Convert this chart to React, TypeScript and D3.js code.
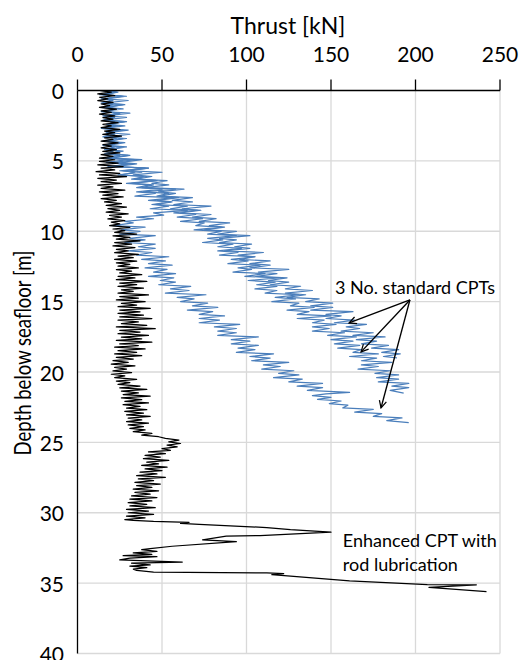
import React from 'react';
import * as d3 from 'd3';

const thrustTicks = [0, 50, 100, 150, 200, 250];
const depthTicks = [0, 5, 10, 15, 20, 25, 30, 35, 40];

// [depth m, thrust kN]
const enhancedCPT: [number, number][] = [
  [0,13],[0.12,20],[0.24,12],[0.36,22],[0.48,13],[0.6,18],[0.72,12],[0.84,21],[0.96,14],[1.08,19],[1.2,13],[1.32,23],[1.44,14],[1.56,20],[1.68,13],[1.8,22],[1.92,15],
  [2.04,21],[2.16,14],[2.28,24],[2.4,15],[2.52,20],[2.64,14],[2.76,25],[2.88,16],[3.0,22],[3.12,15],[3.24,26],[3.36,16],[3.48,21],[3.6,14],[3.72,24],[3.84,15],[3.96,20],[4.08,14],[4.2,23],[4.32,15],[4.44,25],[4.56,14],[4.68,21],[4.8,13],[4.92,22],
  [5.04,13],[5.16,24],[5.28,12],[5.4,27],[5.52,14],[5.64,22],[5.76,11],[5.88,25],[6.0,13],[6.12,29],[6.24,12],[6.36,23],[6.48,14],[6.6,26],[6.72,12],[6.84,21],[6.96,14],[7.08,28],[7.2,13],[7.32,24],[7.44,15],[7.56,27],[7.68,14],[7.8,23],[7.92,16],
  [8.04,26],[8.16,17],[8.28,29],[8.4,18],[8.52,25],[8.64,17],[8.76,30],[8.88,19],[9.0,26],[9.12,18],[9.24,28],[9.36,20],[9.48,25],[9.6,19],[9.72,31],[9.84,21],[9.96,28],
  [10.08,22],[10.2,35],[10.32,21],[10.44,31],[10.56,23],[10.68,37],[10.8,22],[10.92,32],[11.04,21],[11.16,34],[11.28,23],[11.4,30],[11.52,22],[11.64,36],[11.76,24],[11.88,33],[12.0,22],[12.12,35],[12.24,23],[12.36,31],[12.48,24],[12.6,36],[12.72,23],[12.84,32],[12.96,25],
  [13.08,38],[13.2,24],[13.32,34],[13.44,23],[13.56,41],[13.68,25],[13.8,35],[13.92,24],[14.04,39],[14.16,26],[14.28,33],[14.4,24],[14.52,42],[14.64,25],[14.76,36],[14.88,23],[15.0,40],[15.12,26],[15.24,35],[15.36,24],[15.48,43],[15.6,25],[15.72,37],[15.84,24],[15.96,39],
  [16.08,25],[16.2,44],[16.32,24],[16.44,36],[16.56,26],[16.68,41],[16.8,23],[16.92,46],[17.04,25],[17.16,37],[17.28,24],[17.4,42],[17.52,26],[17.64,38],[17.76,23],[17.88,44],[18.0,25],[18.12,36],[18.24,22],[18.36,40],[18.48,24],[18.6,35],[18.72,22],[18.84,38],[18.96,23],
  [19.08,33],[19.2,21],[19.32,30],[19.44,20],[19.56,34],[19.68,22],[19.8,29],[19.92,21],[20.04,32],[20.16,20],[20.28,28],[20.4,22],[20.52,35],[20.64,23],[20.76,31],[20.88,24],
  [21.0,37],[21.12,25],[21.24,41],[21.36,26],[21.48,36],[21.6,27],[21.72,43],[21.84,26],[21.96,38],[22.08,28],[22.2,42],[22.32,27],[22.44,37],[22.56,29],[22.68,41],[22.8,28],[22.92,39],[23.04,29],[23.16,43],[23.28,30],[23.4,38],[23.52,29],[23.64,42],[23.76,30],[23.88,39],
  [24.0,31],[24.12,40],[24.24,33],[24.36,44],[24.48,38],[24.6,48],
  [24.72,52],[24.84,60],[24.96,54],[25.08,61],[25.2,53],[25.32,59],[25.44,50],
  [25.56,55],[25.68,42],[25.8,52],[25.92,40],[26.04,49],[26.16,39],[26.28,54],[26.4,41],[26.52,48],[26.64,38],[26.76,53],[26.88,40],
  [27.0,50],[27.12,37],[27.24,47],[27.36,35],[27.48,52],[27.6,36],[27.72,45],[27.84,34],[27.96,49],[28.08,35],[28.2,44],[28.32,33],[28.44,48],[28.56,34],[28.68,43],[28.8,32],[28.92,47],
  [29.04,31],[29.16,44],[29.28,30],[29.4,41],[29.52,31],[29.64,46],[29.76,29],[29.88,42],[30.0,30],[30.12,45],[30.24,29],[30.36,40],[30.48,28],
  [30.55,33],[30.62,45],[30.68,66],[30.75,61],[30.82,72],[31.05,112],[31.2,126],[31.38,150],[31.62,108],[31.66,88],[31.92,74],[32.06,94],[32.38,56],[32.55,43],
  [32.62,38],[32.75,47],[32.85,33],[32.95,44],[33.05,27],[33.12,47],[33.22,31],[33.35,25],[33.5,62],[33.58,32],[33.7,43],[33.8,31],[33.9,41],[34.0,33],[34.1,35],
  [34.22,45],[34.28,112],[34.33,122],[34.4,115],[34.84,161],[35.1,207],[35.12,236],[35.3,208],[35.6,242]
];

const standardCPT1: [number, number][] = [
  [0,16],[0.11,24],[0.3,15],[0.41,29],[0.6,17],[0.71,21],[0.9,14],[1.01,27],[1.2,18],[1.31,23],[1.5,15],[1.61,31],[1.8,17],[1.91,22],[2.1,16],[2.21,28],[2.4,19],[2.51,24],[2.7,15],[2.81,30],[3.0,18],[3.11,22],[3.3,16],[3.41,27],[3.6,19],[3.71,25],[3.9,16],[4.01,29],[4.2,19],[4.31,25],[4.5,20],
  [4.61,31],[4.8,20],[4.91,38],[5.1,26],[5.21,35],[5.4,23],[5.51,42],[5.7,31],[5.81,50],[6.0,33],[6.11,44],[6.3,35],[6.41,53],[6.6,44],[6.71,54],[6.9,40],[7.01,63],[7.2,48],[7.31,58],[7.5,49],[7.61,68],[7.8,56],[7.91,68],[8.1,57],[8.21,79],[8.4,62],[8.51,73],[8.7,61],[8.81,79],[9.0,68],
  [9.11,82],[9.3,72],[9.41,90],[9.6,78],[9.71,87],[9.9,75],[10.01,94],[10.2,83],[10.31,102],[10.5,84],[10.61,94],[10.8,84],[10.91,103],[11.1,93],[11.21,102],[11.4,87],[11.51,110],[11.7,95],[11.81,105],[12.0,96],[12.11,114],[12.3,102],[12.41,114],[12.6,102],[12.71,125],[12.9,107],[13.01,118],[13.2,106],[13.31,124],[13.5,113],
  [13.61,125],[13.8,114],[13.91,132],[14.1,123],[14.21,139],[14.4,123],[14.51,135],[14.7,124],[14.81,143],[15.0,135],[15.11,151],[15.3,138],[15.41,151],[15.6,138],[15.71,163],[15.9,147],[16.01,156],[16.2,147],[16.31,164],[16.5,152],[16.61,171],[16.8,159],[16.91,167],[17.1,156],[17.21,175],[17.4,163],[17.51,182],[17.7,165],[17.81,177],[18.0,168],
  [18.11,184],[18.3,174],[18.41,190],[18.6,180],[18.71,191],[18.9,181],[19.0,189]
];

const standardCPT2: [number, number][] = [
  [0,15],[0.11,22],[0.3,13],[0.41,26],[0.6,16],[0.71,30],[0.9,15],[1.01,21],[1.2,16],[1.31,27],[1.5,14],[1.61,25],[1.8,17],[1.91,29],[2.1,15],[2.21,22],[2.4,18],[2.51,28],[2.7,15],[2.81,24],[3.0,17],[3.11,31],[3.3,18],[3.41,23],[3.6,15],[3.71,28],[3.9,18],[4.01,22],[4.2,16],[4.31,27],[4.5,18],
  [4.61,30],[4.8,18],[4.91,30],[5.1,17],[5.21,29],[5.4,21],[5.51,40],[5.7,27],[5.81,38],[6.0,24],[6.11,39],[6.3,34],[6.41,47],[6.6,32],[6.71,45],[6.9,38],[7.01,58],[7.2,39],[7.31,54],[7.5,47],[7.61,60],[7.8,47],[7.91,56],[8.1,46],[8.21,65],[8.4,55],[8.51,71],[8.7,57],[8.81,70],[9.0,59],
  [9.11,74],[9.3,61],[9.41,75],[9.6,70],[9.71,85],[9.9,69],[10.01,85],[10.2,77],[10.31,94],[10.5,77],[10.61,86],[10.8,74],[10.91,92],[11.1,83],[11.21,97],[11.4,83],[11.51,95],[11.7,84],[11.81,105],[12.0,91],[12.11,101],[12.3,89],[12.41,108],[12.6,95],[12.71,103],[12.9,92],[13.01,111],[13.2,99],[13.31,119],[13.5,101],
  [13.61,117],[13.8,106],[13.91,118],[14.1,105],[14.21,118],[14.4,111],[14.51,131],[14.7,117],[14.81,129],[15.0,115],[15.11,131],[15.3,126],[15.41,140],[15.6,124],[15.71,137],[15.9,130],[16.01,150],[16.2,130],[16.31,146],[16.5,139],[16.61,153],[16.8,139],[16.91,149],[17.1,139],[17.21,158],[17.4,148],[17.51,165],[17.7,150],[17.81,163],[18.0,152],
  [18.11,167],[18.3,154],[18.41,168],[18.6,163],[18.71,178],[18.9,161],[19.01,177],[19.2,168],[19.31,186],[19.5,168],[19.61,178],[19.8,166],[19.91,185],[20.1,176],[20.21,190],[20.4,177],[20.51,190],[20.7,178],[20.81,196],[21.0,186],[21.11,196],[21.3,185],[21.5,193]
];

const standardCPT3: [number, number][] = [
  [0,14],[0.11,23],[0.3,15],[0.41,27],[0.6,14],[0.71,20],[0.9,16],[1.01,28],[1.2,14],[1.31,22],[1.5,17],[1.61,25],[1.8,15],[1.91,21],[2.1,16],[2.21,29],[2.4,17],[2.51,22],[2.7,14],[2.81,27],[3.0,17],[3.11,21],[3.3,15],[3.41,29],[3.6,17],[3.71,23],[3.9,15],[4.01,27],[4.2,17],[4.31,21],[4.5,16],
  [4.61,25],[4.8,16],[4.91,34],[5.1,22],[5.21,32],[5.4,18],[5.51,42],[5.7,25],[5.81,34],[6.0,26],[6.11,41],[6.3,32],[6.41,47],[6.6,29],[6.71,43],[6.9,35],[7.01,50],[7.2,35],[7.31,46],[7.5,34],[7.61,57],[7.8,42],[7.91,55],[8.1,44],[8.21,54],[8.4,43],[8.51,65],[8.7,45],[8.85,51],[9.0,35],
  [9.11,45],[9.3,28],[9.41,33],[9.6,21],[9.71,40],[9.9,26],[10.01,37],[10.2,25],[10.31,46],[10.5,31],[10.61,40],[10.8,28],[10.91,46],[11.1,36],[11.21,46],[11.4,30],[11.51,44],[11.7,35],[11.81,54],[12.0,38],[12.11,52],[12.3,42],[12.41,56],[12.6,40],[12.71,53],[12.9,45],[13.01,58],[13.2,42],[13.31,57],[13.5,49],
  [13.61,58],[13.8,48],[13.91,67],[14.1,55],[14.21,66],[14.4,52],[14.51,76],[14.7,59],[14.81,69],[15.0,61],[15.11,77],[15.3,68],[15.41,83],[15.6,65],[15.71,80],[15.9,72],[16.01,87],[16.2,72],[16.31,84],[16.5,72],[16.61,96],[16.8,81],[16.91,94],[17.1,83],[17.21,94],[17.4,83],[17.51,107],[17.7,91],[17.81,102],[18.0,91],
  [18.11,107],[18.3,95],[18.41,105],[18.6,94],[18.71,116],[18.9,102],[19.01,114],[19.2,103],[19.31,125],[19.5,110],[19.61,120],[19.8,109],[19.91,128],[20.1,119],[20.21,131],[20.4,116],[20.51,133],[20.7,125],[20.81,145],[21.0,130],[21.11,145],[21.3,136],
  [21.45,161],[21.55,147],[21.68,139],[21.8,150],[21.95,142],[22.06,156],[22.25,149],[22.36,160],[22.55,157],[22.66,175],[22.85,164],[22.96,180],[23.15,175],[23.26,192],[23.45,183],[23.6,196]
];

const standardSeries = [standardCPT1, standardCPT2, standardCPT3];

// annotation anchors in data units [thrust kN, depth m]
const standardLabel: [number, number] = [152.4, 14.45];
const arrowOrigin: [number, number] = [196.7, 14.88];
const arrowTips: [number, number][] = [[160.7, 16.51], [167.8, 18.57], [179.6, 22.55]];
const enhancedLabel: [number, number] = [157, 32.42];
const enhancedLabel2: [number, number] = [157, 34.13];

const FONT = "Lato, 'Open Sans', sans-serif";

export default function App() {
  const x = d3.scaleLinear().domain([0, 250]).range([77.5, 500]);
  const y = d3.scaleLinear().domain([0, 40]).range([90.5, 653.5]);
  const line = d3.line<[number, number]>().x(d => x(d[1])).y(d => y(d[0]));

  return (
    <svg width={519} height={660} style={{ position: 'absolute', left: 0, top: 0, background: '#fff' }}>
      <defs>
        <marker id="arr" viewBox="0 0 10 10" refX="9" refY="5" markerWidth="9" markerHeight="9" orient="auto" markerUnits="userSpaceOnUse">
          <path d="M1,1 L9,5 L1,9" fill="none" stroke="#000" strokeWidth={1.4} />
        </marker>
      </defs>
      <rect x={0} y={0} width={519} height={660} fill="#fff" />
      {thrustTicks.filter(t => t > 0).map(t => (
        <line key={'gx' + t} x1={x(t)} x2={x(t)} y1={y(0)} y2={y(40)} stroke="#d9d9d9" strokeWidth={1.3} />
      ))}
      {depthTicks.filter(t => t > 0).map(t => (
        <line key={'gy' + t} x1={x(0)} x2={x(250)} y1={y(t)} y2={y(t)} stroke="#d9d9d9" strokeWidth={1.3} />
      ))}
      {standardSeries.map((s, i) => (
        <path key={'s' + i} d={line(s) || ''} fill="none" stroke="#4a7ebb" strokeWidth={1.2} strokeLinejoin="round" />
      ))}
      <path d={line(enhancedCPT) || ''} fill="none" stroke="#000" strokeWidth={1.25} strokeLinejoin="round" />
      <line x1={x(0)} x2={x(250)} y1={y(0)} y2={y(0)} stroke="#000" strokeWidth={1.3} />
      <line x1={x(0)} x2={x(0)} y1={y(0)} y2={y(40)} stroke="#000" strokeWidth={1.3} />
      {thrustTicks.map(t => (
        <line key={'tx' + t} x1={x(t)} x2={x(t)} y1={y(0) - 11} y2={y(0)} stroke="#000" strokeWidth={1.3} />
      ))}
      {thrustTicks.map(t => (
        <text key={'lx' + t} x={x(t)} y={53} textAnchor="middle" dominantBaseline="central" fontFamily={FONT} fontSize={21} fill="#000">{t}</text>
      ))}
      {depthTicks.map(t => (
        <text key={'ly' + t} x={64} y={y(t)} textAnchor="end" dominantBaseline="central" fontFamily={FONT} fontSize={21} fill="#000">{t}</text>
      ))}
      <text x={288} y={25} textAnchor="middle" dominantBaseline="central" fontFamily={FONT} fontSize={23} fill="#000">Thrust [kN]</text>
      <text transform={`translate(22,353) rotate(-90)`} textAnchor="middle" dominantBaseline="central" fontFamily={FONT} fontSize={23} textLength={205} lengthAdjust="spacingAndGlyphs" fill="#000">Depth below seafloor [m]</text>
      <text x={x(standardLabel[0])} y={y(standardLabel[1])} fontFamily={FONT} fontSize={18} fill="#000">3 No. standard CPTs</text>
      {arrowTips.map((tip, i) => (
        <line key={'a' + i} x1={x(arrowOrigin[0])} y1={y(arrowOrigin[1])} x2={x(tip[0])} y2={y(tip[1])} stroke="#000" strokeWidth={1.4} markerEnd="url(#arr)" />
      ))}
      <text x={x(enhancedLabel[0])} y={y(enhancedLabel[1])} fontFamily={FONT} fontSize={18} fill="#000">Enhanced CPT with</text>
      <text x={x(enhancedLabel2[0])} y={y(enhancedLabel2[1])} fontFamily={FONT} fontSize={18} fill="#000">rod lubrication</text>
    </svg>
  );
}
